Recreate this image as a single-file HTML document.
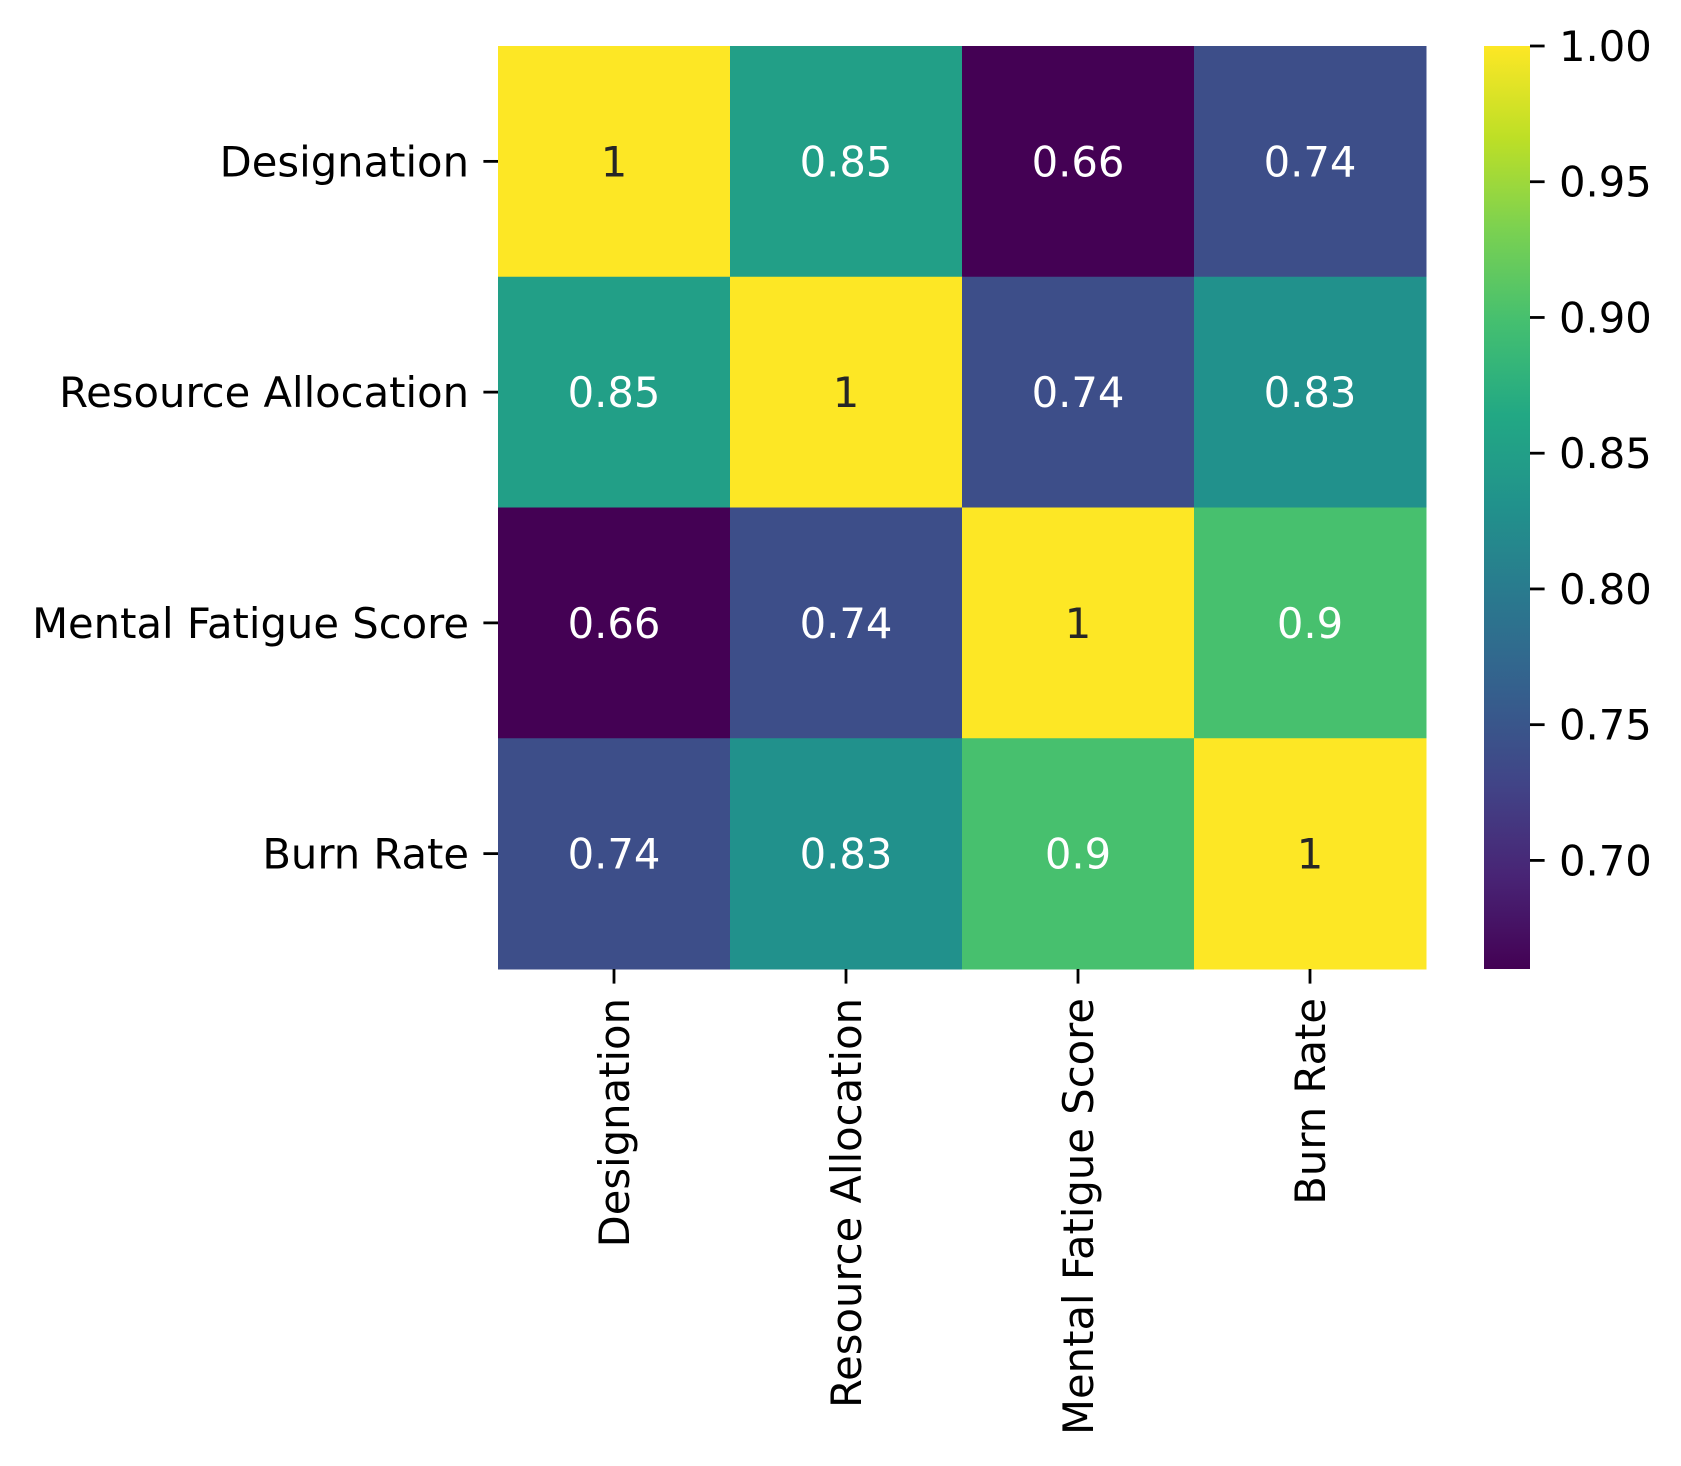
<!DOCTYPE html>
<html><head><meta charset="utf-8">
<style>
html,body{margin:0;padding:0;background:#fff;}
svg{display:block;font-family:"DejaVu Sans","Liberation Sans",sans-serif;}
</style></head>
<body>
<svg id="chart" width="1681" height="1466" viewBox="0 0 1681 1466" xmlns="http://www.w3.org/2000/svg">
<defs><linearGradient id="cbgrad" x1="0" y1="1" x2="0" y2="0"></linearGradient></defs>
<g id="cells"></g>
<g id="ylabels"></g>
<g id="xlabels"></g>
<g id="cbar"></g>
</svg>
<script>
const categories = ["Designation","Resource Allocation","Mental Fatigue Score","Burn Rate"];
const row0 = [1, 0.85, 0.66, 0.74];
const row1 = [0.85, 1, 0.74, 0.83];
const row2 = [0.66, 0.74, 1, 0.9];
const row3 = [0.74, 0.83, 0.9, 1];
const cbTicks = [0.70, 0.75, 0.80, 0.85, 0.90, 0.95, 1.00];
const cbTickLabels = ["0.70","0.75","0.80","0.85","0.90","0.95","1.00"];
const vmin = 0.66, vmax = 1.0;

const matrix = [row0,row1,row2,row3];
const NS = "http://www.w3.org/2000/svg";
const L = 498, R = 1426, T = 46, B = 969;
const cw = (R-L)/categories.length, ch = (B-T)/categories.length;
const FS = 41.7;
const vir = ["#440154","#482475","#414487","#355f8d","#2a788e","#21918c","#22a884","#44bf70","#7ad151","#bddf26","#fde725"];
function hex(h){return [1,3,5].map(i=>parseInt(h.substr(i,2),16));}
function viridis(t){
  t=Math.max(0,Math.min(1,t));
  const p=t*(vir.length-1), i=Math.min(Math.floor(p),vir.length-2), f=p-i;
  const a=hex(vir[i]), b=hex(vir[i+1]);
  return "rgb("+a.map((v,k)=>Math.round(v+(b[k]-v)*f)).join(",")+")";
}
const norm = v => (v-vmin)/(vmax-vmin);
const xPos = i => L + cw*(i+0.5);
const yPos = i => T + ch*(i+0.5);
function mk(tag, attrs, parent){const e=document.createElementNS(NS,tag);for(const k in attrs)e.setAttribute(k,attrs[k]);parent.appendChild(e);return e;}

const cells = document.getElementById("cells");
matrix.forEach((row,r)=>row.forEach((v,c)=>{
  const rect = mk("rect",{x:L+c*cw,y:T+r*ch,width:cw+0.5,height:ch+0.5,fill:viridis(norm(v))},cells);
  
  
  const t = mk("text",{x:xPos(c),y:yPos(r)+FS*0.36,"text-anchor":"middle","font-size":FS,fill:norm(v)>0.85?"#262626":"#ffffff"},cells);
  t.textContent = String(v);
  
  
}));

const yl = document.getElementById("ylabels");
categories.forEach((c,i)=>{
  mk("line",{x1:L-14.6,x2:L,y1:yPos(i),y2:yPos(i),stroke:"#000","stroke-width":2.8},yl);
  const t = mk("text",{x:L-29,y:yPos(i)+FS*0.36,"text-anchor":"end","font-size":FS,fill:"#000"},yl);
  t.textContent = c;
  
  
});
const xl = document.getElementById("xlabels");
categories.forEach((c,i)=>{
  mk("line",{x1:xPos(i),x2:xPos(i),y1:B,y2:B+14.6,stroke:"#000","stroke-width":2.8},xl);
  const t = mk("text",{x:0,y:0,"text-anchor":"end","font-size":FS,fill:"#000",transform:"translate("+(xPos(i)+FS*0.36)+","+(B+29)+") rotate(-90)"},xl);
  t.textContent = c;
  
  
});

const grad = document.getElementById("cbgrad");
for(let k=0;k<=20;k++){mk("stop",{offset:(k/20),"stop-color":viridis(k/20)},grad);}
const cb = document.getElementById("cbar");
const CL=1484, CR=1530;
const cbRect = mk("rect",{x:CL,y:T,width:CR-CL,height:B-T,fill:"url(#cbgrad)"},cb);


const cbY = v => B - norm(v)*(B-T);
cbTicks.forEach((v,i)=>{
  mk("line",{x1:CR,x2:CR+14.6,y1:cbY(v),y2:cbY(v),stroke:"#000","stroke-width":2.8},cb);
  const t = mk("text",{x:CR+29,y:cbY(v)+FS*0.36,"font-size":FS,fill:"#000"},cb);
  t.textContent = cbTickLabels[i];
  
  
});
</script>
</body></html>
